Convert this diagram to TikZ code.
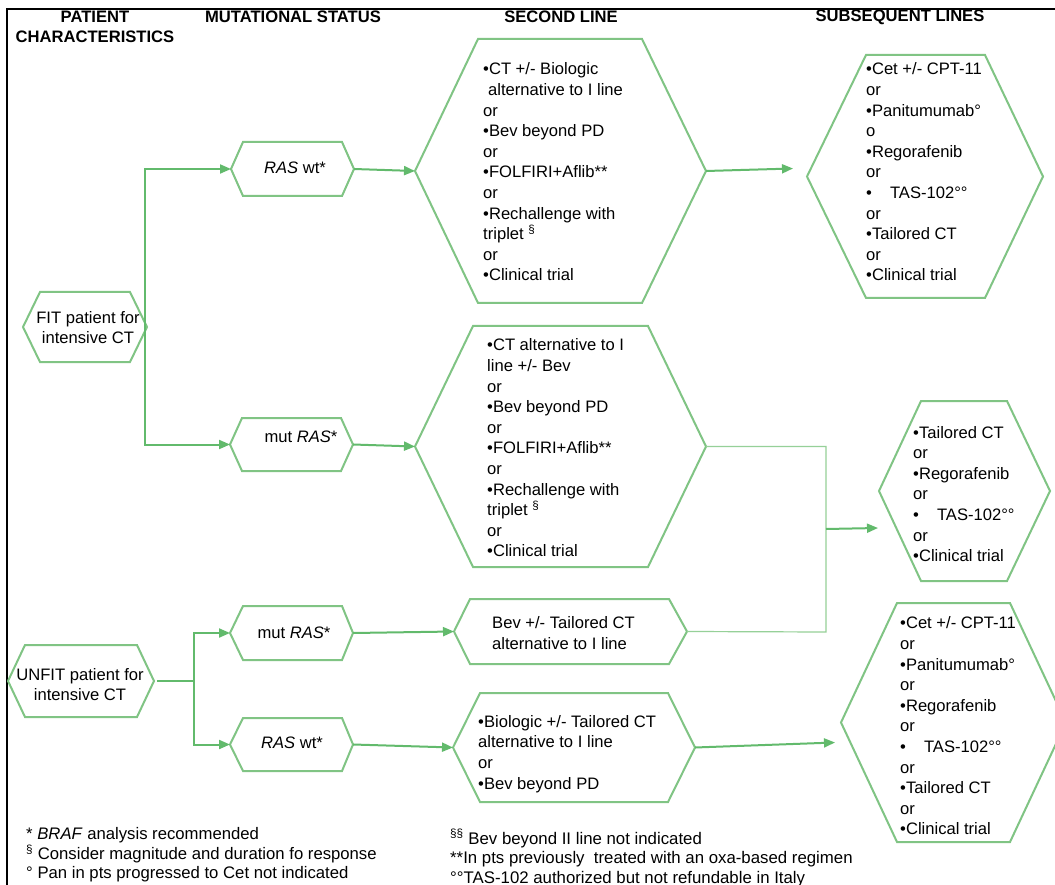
\documentclass[tikz,border=0pt]{standalone}
\usepackage{fontspec}
\setmainfont{Liberation Sans}
\usetikzlibrary{arrows.meta,calc}
\definecolor{hexgreen}{RGB}{128,196,132}
\definecolor{lngreen}{RGB}{98,186,108}
\definecolor{thingreen}{RGB}{150,208,152}
% name, left tip x, top-left x, top-right x, right tip x, top y, bottom y (pixels)
\newcommand{\hexbox}[7]{%
  \draw[hexline] (#2,{-(#6+#7)/2}) -- (#3,-#6) -- (#4,-#6) -- (#5,{-(#6+#7)/2}) -- (#4,-#7) -- (#3,-#7) -- cycle;
  \coordinate (#1-l) at (#2,{-(#6+#7)/2});
  \coordinate (#1-r) at (#5,{-(#6+#7)/2});
}
\begin{document}
\begin{tikzpicture}[x=1pt,y=1pt,
  hexline/.style={draw=hexgreen, line width=2pt},
  conn/.style={draw=lngreen, line width=2pt},
  arr/.style={conn, -{Triangle[length=11pt,width=9pt]}},
  thinconn/.style={draw=thingreen, line width=1.2pt},
  txt/.style={inner sep=0pt, font=\fontsize{16.6}{20.6}\selectfont, align=left, anchor=west},
  ctxt/.style={inner sep=0pt, font=\fontsize{16.6}{20}\selectfont, align=center},
  head/.style={inner sep=0pt, font=\fontsize{16.6}{20}\selectfont\bfseries, align=center},
  note/.style={inner sep=0pt, font=\fontsize{16.7}{19.5}\selectfont, align=left, anchor=west},
  note2/.style={inner sep=0pt, font=\fontsize{16.8}{19.5}\selectfont, align=left, anchor=west}]
\clip (0,0) rectangle (1055,-885);
\fill[white] (0,0) rectangle (1055,-885);
\draw[line width=2.5pt] (7,-885) -- (7,-9) -- (1055,-9);

% headers
\node[head] (h1) at (95,-27) {PATIENT\\CHARACTERISTICS};
\node[head] (h2) at (293,-17) {MUTATIONAL STATUS};
\node[head] (h3) at (561,-17) {SECOND LINE};
\node[head] (h4) at (900,-17) {SUBSEQUENT LINES};

% hexagons
\hexbox{fit}{23}{40}{130}{147}{292}{362}
\hexbox{rw1}{231}{243}{342}{354}{142}{196}
\hexbox{mr1}{230}{242}{341}{353}{418}{471}
\hexbox{s1}{415}{478}{642}{706}{39}{303}
\hexbox{s2}{415}{473}{648}{706}{326}{567}
\hexbox{q1}{807}{866}{985}{1043}{55}{298}
\hexbox{q2}{879}{921}{1007}{1050}{401}{581}
\hexbox{unfit}{8}{25}{137}{154}{645}{717}
\hexbox{mr2}{230}{243}{342}{353}{606}{660}
\hexbox{rw2}{230}{243}{342}{353}{718}{771}
\hexbox{s3}{454}{470}{669}{687}{599}{664}
\hexbox{s4}{453}{480}{668}{695}{693}{802}
\hexbox{q3}{841}{897}{1010}{1066}{603}{842}

% texts
\node[ctxt] (tfit) at (88,-328) {FIT patient for\\intensive CT};
\node[ctxt] (trw1) at (295,-168) {\textit{RAS} wt*};
\node[ctxt] (tmr1) at (301,-437) {mut \textit{RAS}*};
\node[ctxt] (tunfit) at (80,-685) {UNFIT patient for\\intensive CT};
\node[ctxt] (tmr2) at (294,-633) {mut \textit{RAS}*};
\node[ctxt] (trw2) at (292,-743) {\textit{RAS} wt*};

\node[txt] (ts1) at (483,-172) {•CT +/- Biologic\\\hspace*{5pt}alternative to I line\\or\\•Bev beyond PD\\or\\•FOLFIRI+Aflib**\\or\\•Rechallenge with\\triplet \textsuperscript{§}\\or\\•Clinical trial};
\node[txt] (ts2) at (487,-448) {•CT alternative to I\\line +/- Bev\\or\\•Bev beyond PD\\or\\•FOLFIRI+Aflib**\\or\\•Rechallenge with\\triplet \textsuperscript{§}\\or\\•Clinical trial};
\node[txt] (ts3) at (492,-633) {Bev +/- Tailored CT\\alternative to I line};
\node[txt] (ts4) at (478,-754) {•Biologic +/- Tailored CT\\alternative to I line\\or\\•Bev beyond PD};

\node[txt] (tq1) at (866,-172) {•Cet +/- CPT-11\\or\\•Panitumumab°\\o\\•Regorafenib\\or\\•\hspace{18pt}TAS-102°°\\or\\•Tailored CT\\or\\•Clinical trial};
\node[txt] (tq2) at (913,-494) {•Tailored CT\\or\\•Regorafenib\\or\\•\hspace{18pt}TAS-102°°\\or\\•Clinical trial};
\node[txt] (tq3) at (900,-726) {•Cet +/- CPT-11\\or\\•Panitumumab°\\or\\•Regorafenib\\or\\•\hspace{18pt}TAS-102°°\\or\\•Tailored CT\\or\\•Clinical trial};

% footnotes
\node[note] (n1) at (26,-855) {* \textit{BRAF} analysis recommended\\\textsuperscript{§} Consider magnitude and duration fo response\\° Pan in pts progressed to Cet not indicated};
\node[note2] (n2) at (450,-858) {\textsuperscript{§§} Bev beyond II line not indicated\\**In pts previously\ \ treated with an oxa-based regimen\\°°TAS-102 authorized but not refundable in Italy};

% connectors
\draw[arr] ([xshift=-2pt]fit-r) |- (rw1-l);
\draw[arr] ([xshift=-2pt]fit-r) |- (mr1-l);
\draw[arr] (rw1-r) -- (s1-l);
\draw[arr] (mr1-r) -- (s2-l);
\draw[arr] (s1-r) -- ([xshift=-14pt,yshift=8pt]q1-l);

\coordinate (j1) at (826,-632);
\coordinate (j2) at (826,-529);
\draw[thinconn] (s2-r) -| (j1) -- (s3-r);
\draw[arr] (j2) -- ([xshift=-1pt,yshift=-37pt]q2-l);

\coordinate (j3) at ($(unfit-r)+(40pt,0)$);
\draw[conn] ([xshift=3pt]unfit-r) -- (j3);
\draw[arr] (j3) |- (mr2-l);
\draw[arr] (j3) |- (rw2-l);
\draw[arr] (mr2-r) -- (s3-l);
\draw[arr] (rw2-r) -- (s4-l);
\draw[arr] (s4-r) -- ([xshift=-6pt,yshift=-20pt]q3-l);
\end{tikzpicture}
\end{document}
